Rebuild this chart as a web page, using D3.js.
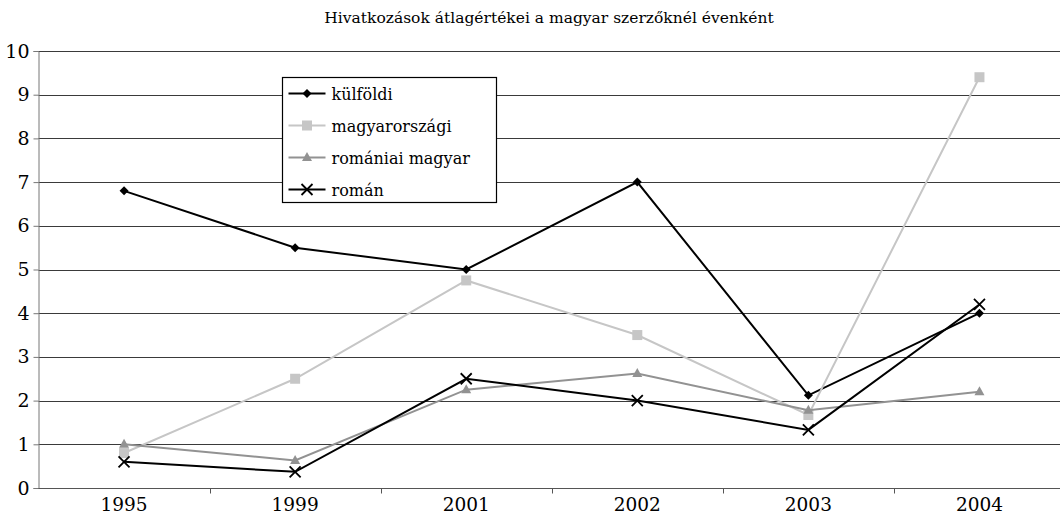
<!DOCTYPE html>
<html>
<head>
<meta charset="utf-8">
<script src="https://cdn.jsdelivr.net/npm/d3@7"></script>
<style>
  body { margin: 0; background: #fff; }
  svg { display: block; }
  svg text { font-family: "DejaVu Serif", serif; }
</style>
</head>
<body>
<svg id="chart" width="1060" height="515"></svg>
<script>
const years = ['1995', '1999', '2001', '2002', '2003', '2004'];
const kulfoldi = [6.8, 5.5, 5.0, 7.0, 2.12, 4.0];
const magyarorszagi = [0.8, 2.5, 4.75, 3.5, 1.67, 9.4];
const romaniaiMagyar = [1.0, 0.63, 2.25, 2.62, 1.78, 2.2];
const roman = [0.6, 0.37, 2.5, 2.0, 1.33, 4.2];
const yTicks = [0, 1, 2, 3, 4, 5, 6, 7, 8, 9, 10];

const series = [
    { name: 'külföldi', values: kulfoldi, color: '#000', marker: 'diamond' },
    { name: 'magyarországi', values: magyarorszagi, color: '#c6c6c6', marker: 'square' },
    { name: 'romániai magyar', values: romaniaiMagyar, color: '#929292', marker: 'triangle' },
    { name: 'román', values: roman, color: '#000', marker: 'cross' }
];

const margin = { left: 38.5, top: 51, right: -5, bottom: 27 };
const width = 1060, height = 515;
const svg = d3.select('#chart');

const x = d3.scaleBand().domain(years).range([margin.left, width - margin.right]);
const y = d3.scaleLinear().domain([0, 10]).range([height - margin.bottom, margin.top]);

// title
svg.append('text')
    .attr('x', 549).attr('y', 23)
    .attr('text-anchor', 'middle')
    .attr('font-size', 15.5)
    .text('Hivatkozások átlagértékei a magyar szerzőknél évenként');

// grid
svg.append('g')
    .selectAll('line')
    .data(yTicks)
    .enter()
    .append('line')
    .attr('x1', margin.left).attr('x2', width)
    .attr('y1', d => Math.round(y(d)) + 0.5).attr('y2', d => Math.round(y(d)) + 0.5)
    .attr('stroke', '#3a3a3a')
    .attr('stroke-width', 1);

// y axis
const yAxis = svg.append('g')
    .attr('transform', `translate(${margin.left},0)`)
    .call(d3.axisLeft(y).tickValues(yTicks).tickSize(5).tickPadding(4).tickFormat(d3.format('d')));
yAxis.attr('font-family', null);
yAxis.select('.domain').attr('stroke', '#777');
yAxis.selectAll('.tick line').attr('stroke', '#777');
yAxis.selectAll('text').attr('font-size', 19).attr('fill', '#000');

// x axis with ticks at band boundaries
const xg = svg.append('g')
    .attr('transform', `translate(0,${Math.round(y(0)) + 0.5})`);
xg.append('line')
    .attr('x1', margin.left).attr('x2', width)
    .attr('stroke', '#555');
xg.selectAll('line.tk')
    .data(years.slice(1))
    .enter()
    .append('line')
    .attr('class', 'tk')
    .attr('x1', d => Math.round(x(d)) + 0.5).attr('x2', d => Math.round(x(d)) + 0.5)
    .attr('y1', 0).attr('y2', 5)
    .attr('stroke', '#555');
xg.selectAll('text')
    .data(years)
    .enter()
    .append('text')
    .attr('x', d => x(d) + x.bandwidth() / 2)
    .attr('y', 22)
    .attr('text-anchor', 'middle')
    .attr('font-size', 18.5)
    .text(d => d);

const cx = i => x(years[i]) + x.bandwidth() / 2;

function drawMarker(g, type, color) {
    if (type === 'diamond') {
        g.append('path').attr('d', 'M0,-4.5L4.5,0L0,4.5L-4.5,0Z').attr('fill', color);
    } else if (type === 'square') {
        g.append('rect').attr('x', -5).attr('y', -5).attr('width', 10).attr('height', 10).attr('fill', color);
    } else if (type === 'triangle') {
        g.append('path').attr('d', 'M0,-5.5L5,3.5L-5,3.5Z').attr('fill', color);
    } else {
        g.append('path').attr('d', 'M-5.5,-5.5L5.5,5.5M-5.5,5.5L5.5,-5.5')
            .attr('stroke', color).attr('stroke-width', 1.8).attr('fill', 'none');
    }
}

const line = d3.line().x((d, i) => cx(i)).y(d => y(d));

series.forEach(s => {
    svg.append('path')
        .datum(s.values)
        .attr('d', line)
        .attr('fill', 'none')
        .attr('stroke', s.color)
        .attr('stroke-width', 2);
    s.values.forEach((v, i) => {
        const g = svg.append('g').attr('transform', `translate(${cx(i)},${y(v)})`);
        drawMarker(g, s.marker, s.color);
    });
});

// legend
const legend = svg.append('g').attr('transform', 'translate(282.5,77.5)');
legend.append('rect')
    .attr('width', 214).attr('height', 125)
    .attr('fill', '#fff').attr('stroke', '#000').attr('stroke-width', 1.2);
series.forEach((s, i) => {
    const ly = 16 + i * 32;
    legend.append('line')
        .attr('x1', 6).attr('x2', 43).attr('y1', ly).attr('y2', ly)
        .attr('stroke', s.color).attr('stroke-width', 2);
    const g = legend.append('g').attr('transform', `translate(24.5,${ly})`);
    drawMarker(g, s.marker, s.color);
    legend.append('text')
        .attr('x', 49).attr('y', ly + 6)
        .attr('font-size', 16)
        .text(s.name);
});
</script>
</body>
</html>
